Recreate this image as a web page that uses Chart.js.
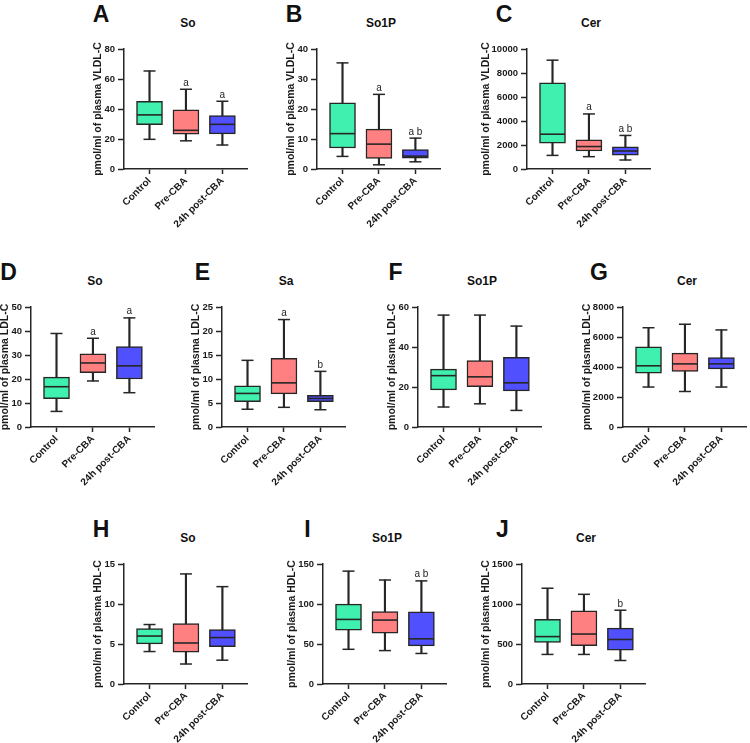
<!DOCTYPE html>
<html><head><meta charset="utf-8">
<script src="https://cdn.jsdelivr.net/npm/chart.js@4.4.1/dist/chart.umd.min.js"></script>
<style>
html,body{margin:0;padding:0;background:#fff;}
body{position:relative;width:750px;height:743px;overflow:hidden;font-family:"Liberation Sans",Arial,sans-serif;}
canvas{position:absolute;}
.letter{position:absolute;font-weight:bold;font-size:23px;line-height:23px;color:#111;transform:translateX(-50%);white-space:nowrap;}
.ptitle{position:absolute;font-weight:bold;font-size:12px;line-height:12px;color:#111;transform:translateX(-50%);white-space:nowrap;}
</style></head><body>
<script>
const categories = ['Control', 'Pre-CBA', '24h post-CBA'];
const groupColors = ['#40F0AE', '#FF8080', '#5050FF'];

// each row: [min, q1, median, q3, max] for Control, Pre-CBA, 24h post-CBA
const boxA = [[19.8,29.6,36.1,45.2,65.4],[18.8,23.2,25.8,39.5,53.2],[16.0,23.4,29.8,35.7,45.2]];
const sigA = ['', 'a', 'a'];
const ticksA = [0,20,40,60,80];

const boxB = [[4.2,7.0,11.8,22.1,35.4],[1.4,3.5,8.3,13.3,24.9],[2.4,3.6,4.3,6.5,10.3]];
const sigB = ['', 'a', 'a b'];
const ticksB = [0,10,20,30,40];

const boxC = [[1135,2164,2902,7177,9077],[1029,1504,1873,2427,4591],[750,1150,1500,1850,2800]];
const sigC = ['', 'a', 'a b'];
const ticksC = [0,2000,4000,6000,8000,10000];

const boxD = [[6.5,11.8,16.8,20.8,39.0],[19.2,22.7,26.7,30.5,37.0],[14.3,20.0,25.5,33.5,45.5]];
const sigD = ['', 'a', 'a'];
const ticksD = [0,10,20,30,40,50];

const boxE = [[3.7,5.3,7.0,8.6,13.9],[4.1,6.9,9.2,14.3,22.4],[3.6,5.3,5.95,6.6,11.6]];
const sigE = ['', 'a', 'b'];
const ticksE = [0,5,10,15,20,25];

const boxF = [[10.0,18.6,25.7,29.0,56.0],[11.6,20.2,25.1,33.2,56.0],[8.3,18.1,22.1,34.9,50.5]];
const sigF = ['', '', ''];
const ticksF = [0,20,40,60];

const boxG = [[2667,3598,4085,5354,6624],[2370,3704,4212,4931,6857],[2667,3873,4212,4635,6476]];
const sigG = ['', '', ''];
const ticksG = [0,2000,4000,6000,8000];

const boxH = [[4.06,5.01,6.0,6.92,7.44],[2.5,3.98,5.13,7.56,13.77],[2.98,4.66,5.81,6.8,12.18]];
const sigH = ['', '', ''];
const ticksH = [0,5,10,15];

const boxI = [[43.4,67.2,80.8,99.9,141.2],[41.8,63.7,80.0,90.7,130.1],[38.2,47.7,56.5,90.3,129.0]];
const sigI = ['', '', 'a b'];
const ticksI = [0,50,100,150];

const boxJ = [[370,521,593,808,1198],[370,481,625,915,1122],[294,422,557,700,923]];
const sigJ = ['', '', 'b'];
const ticksJ = [0,500,1000,1500];

const panels = [
  {letter:'A', title:'So',   yLabel:'pmol/ml of plasma VLDL-C', box:boxA, sig:sigA, ticks:ticksA, x0:124, top:43,  lx:101,   yo:26},
  {letter:'B', title:'So1P', yLabel:'pmol/ml of plasma VLDL-C', box:boxB, sig:sigB, ticks:ticksB, x0:317, top:43,  lx:294,   yo:26},
  {letter:'C', title:'Cer',  yLabel:'pmol/ml of plasma VLDL-C', box:boxC, sig:sigC, ticks:ticksC, x0:527, top:43,  lx:504,   yo:41},
  {letter:'D', title:'So',   yLabel:'pmol/ml of plasma LDL-C',  box:boxD, sig:sigD, ticks:ticksD, x0:31,  top:301, lx:8.5,   yo:26},
  {letter:'E', title:'Sa',   yLabel:'pmol/ml of plasma LDL-C',  box:boxE, sig:sigE, ticks:ticksE, x0:222, top:301, lx:202.5, yo:25.5},
  {letter:'F', title:'So1P', yLabel:'pmol/ml of plasma LDL-C',  box:boxF, sig:sigF, ticks:ticksF, x0:418, top:301, lx:395.5, yo:25.5},
  {letter:'G', title:'Cer',  yLabel:'pmol/ml of plasma LDL-C',  box:boxG, sig:sigG, ticks:ticksG, x0:623, top:301, lx:599,   yo:36},
  {letter:'H', title:'So',   yLabel:'pmol/ml of plasma HDL-C',  box:boxH, sig:sigH, ticks:ticksH, x0:124, top:558, lx:101,   yo:26},
  {letter:'I', title:'So1P', yLabel:'pmol/ml of plasma HDL-C',  box:boxI, sig:sigI, ticks:ticksI, x0:323, top:558, lx:307.5, yo:31},
  {letter:'J', title:'Cer',  yLabel:'pmol/ml of plasma HDL-C',  box:boxJ, sig:sigJ, ticks:ticksJ, x0:522, top:558, lx:502.5, yo:36}
];

Chart.defaults.font.family = '"Liberation Sans", Arial, sans-serif';
Chart.defaults.color = '#222';

const LW = 50, PT = 8, CW = 128, PR = 10, XH = 70, CH = 126;
const ink = '#262626';

panels.forEach(p => {
  const letter = document.createElement('div');
  letter.className = 'letter';
  letter.textContent = p.letter;
  letter.style.left = p.lx + 'px';
  letter.style.top = (p.top - 28.5 - 11.2) + 'px';
  document.body.appendChild(letter);

  const t = document.createElement('div');
  t.className = 'ptitle';
  t.textContent = p.title;
  t.style.left = (p.x0 + 64) + 'px';
  t.style.top = (p.top - 20 - 5.9) + 'px';
  document.body.appendChild(t);

  const cv = document.createElement('canvas');
  cv.width = LW + CW + PR;
  cv.height = PT + CH + XH;
  cv.style.left = (p.x0 - LW) + 'px';
  cv.style.top = (p.top - PT) + 'px';
  document.body.appendChild(cv);

  const titleFont = 10.5;
  const titlePadTop = LW - p.yo - titleFont * 1.2 / 2;

  const sigPlugin = {
    id: 'sig' + p.letter,
    afterDatasetsDraw(chart) {
      const {ctx, scales: {x, y}} = chart;
      ctx.save();
      ctx.font = '10px "Liberation Sans", Arial, sans-serif';
      ctx.fillStyle = '#222';
      ctx.textAlign = 'center';
      ctx.textBaseline = 'alphabetic';
      p.sig.forEach((s, i) => {
        if (!s) return;
        ctx.fillText(s, x.getPixelForValue(i), y.getPixelForValue(p.box[i][4]) - 3.5);
      });
      ctx.restore();
    }
  };

  new Chart(cv, {
    type: 'bar',
    data: {
      datasets: [
        {
          type: 'bar', order: 3, grouped: false,
          data: p.box.map((b, i) => ({x: i, y: [b[0], b[4]]})),
          backgroundColor: ink, borderWidth: 0, barThickness: 1.5
        },
        {
          type: 'bar', order: 2, grouped: false,
          data: p.box.map((b, i) => ({x: i, y: [b[1], b[3]]})),
          backgroundColor: groupColors, borderColor: ink, borderWidth: 1.5,
          borderSkipped: false, barThickness: 26
        },
        {
          type: 'line', order: 1, showLine: false,
          data: p.box.flatMap((b, i) => [{x: i, y: b[0]}, {x: i, y: b[4]}]),
          pointStyle: 'line', pointRadius: 6, pointBorderWidth: 1.5, pointBorderColor: ink
        },
        {
          type: 'line', order: 0, showLine: false,
          data: p.box.map((b, i) => ({x: i, y: b[2]})),
          pointStyle: 'line', pointRadius: 12.5, pointBorderWidth: 1.6, pointBorderColor: ink
        }
      ]
    },
    options: {
      responsive: false, animation: false, events: [],
      layout: {padding: {top: PT, right: PR, left: 0, bottom: 0}},
      plugins: {legend: {display: false}, tooltip: {enabled: false}},
      scales: {
        x: {
          type: 'linear', min: -0.7, max: 2.7, offset: false,
          afterBuildTicks: s => { s.ticks = categories.map((c, i) => ({value: i})); },
          afterFit: s => { s.height = XH; },
          ticks: {callback: v => categories[v], autoSkip: false, maxRotation: 45, minRotation: 45,
                  font: {size: 10, weight: 'bold'}, color: '#1a1a1a', padding: 1},
          grid: {drawOnChartArea: false, offset: false, tickLength: 5, tickColor: ink, tickWidth: 1.5},
          border: {color: ink, width: 1.5}
        },
        y: {
          type: 'linear', min: 0, max: p.ticks[p.ticks.length - 1],
          afterBuildTicks: s => { s.ticks = p.ticks.map(v => ({value: v})); },
          afterFit: s => { s.width = LW; },
          ticks: {callback: v => String(v), font: {size: 9.5, weight: 'bold'}, color: '#1a1a1a', padding: 3},
          grid: {drawOnChartArea: false, tickLength: 6, tickColor: ink, tickWidth: 1.5},
          border: {color: ink, width: 1.5},
          title: {display: true, text: p.yLabel, font: {size: titleFont, weight: 'bold'}, color: '#1a1a1a',
                  padding: {top: titlePadTop, bottom: 0}}
        }
      }
    },
    plugins: [sigPlugin]
  });
});
</script>
</body></html>
